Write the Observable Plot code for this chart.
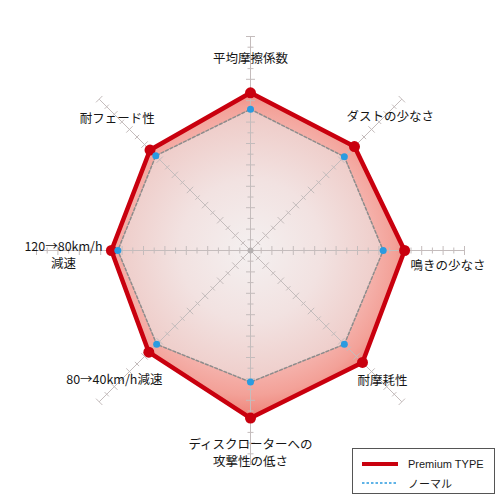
<!DOCTYPE html>
<html><head><meta charset="utf-8">
<script src="https://cdn.jsdelivr.net/npm/d3@7"></script>
<script src="https://cdn.jsdelivr.net/npm/@observablehq/plot@0.6"></script>
<style>
body{margin:0;background:#fff;font-family:"Noto Sans CJK JP","Noto Sans",sans-serif;}
#wrap{position:relative;width:500px;height:500px;}
#legend{position:absolute;left:352px;top:448px;width:143px;height:46px;border:1px solid #555;background:#fff;font-size:11px;color:#1a1a1a;box-sizing:border-box;font-family:"Liberation Sans","Noto Sans CJK JP",sans-serif;}
#legend .row{position:absolute;left:9px;display:flex;align-items:center;height:14px;}
#legend svg{margin-right:10px;}
</style></head><body><div id="wrap"></div>
<script>
// ---- data ----
const categories = ["平均摩擦係数","ダストの少なさ","鳴きの少なさ","耐摩耗性","ディスクローターへの\n攻撃性の低さ","80→40km/h減速","120→80km/h\n減速","耐フェード性"];
const premium = [7.37, 6.87, 7.2, 7.4, 7.83, 6.72, 6.5, 6.64];
const normal  = [6.6, 6.2, 6.2, 6.2, 6.15, 6.2, 6.2, 6.26];
const seriesNames = ["Premium TYPE", "ノーマル"];
const axisMax = 10;
const tickStep = 0.5;

// ---- layout (not data) ----
const W = 500, H = 500, pxPerUnit = 21.4;
const half = W / 2 / pxPerUnit;
const labelLayout = [
  {r: 9.02, anchor: "middle", dx: 0, dy: 0},
  {r: 9.1, anchor: "middle", dx: 2, dy: 3},
  {r: 7.48, anchor: "start", dx: 0, dy: 14},
  {r: 7.0, anchor: "start", dx: 1, dy: 23},
  {r: 9.44, anchor: "middle", dx: 0, dy: 0},
  {r: 9.0, anchor: "middle", dx: 0, dy: -8},
  {r: 8.74, anchor: "middle", dx: 0, dy: 4},
  {r: 9.0, anchor: "middle", dx: 3, dy: 3}
];

const n = categories.length;
const ang = i => i * 2 * Math.PI / n;
const px = (i, r) => r * Math.sin(ang(i));
const py = (i, r) => r * Math.cos(ang(i));

const premPts = premium.map((v, i) => ({x: px(i, v), y: py(i, v)}));
const normPts = normal.map((v, i) => ({x: px(i, v), y: py(i, v)}));
const axes = categories.map((c, i) => ({x1: 0, y1: 0, x2: px(i, axisMax), y2: py(i, axisMax)}));
const ticks = [];
categories.forEach((c, i) => {
  const ux = Math.cos(ang(i)), uy = -Math.sin(ang(i));
  for (let t = tickStep; t <= axisMax + 1e-9; t += tickStep) {
    const major = Math.abs(t - Math.round(t)) < 1e-6;
    const hl = (major ? 4.5 : 3) / pxPerUnit;
    const cx = px(i, t), cy = py(i, t);
    ticks.push({x1: cx - ux * hl, y1: cy - uy * hl, x2: cx + ux * hl, y2: cy + uy * hl});
  }
});
const labels = categories.map((c, i) => ({
  text: c, x: px(i, labelLayout[i].r), y: py(i, labelLayout[i].r), ...labelLayout[i]
}));

const axisColor = "#c4bcbc";
const chart = Plot.plot({
  width: W, height: H, margin: 0,
  x: {domain: [-half, half], axis: null},
  y: {domain: [-half, half], axis: null},
  style: {background: "transparent", fontFamily: '"Noto Sans CJK JP", sans-serif'},
  marks: [
    Plot.line(premPts, {x: "x", y: "y", curve: "linear-closed", fill: "url(#premGrad)", stroke: "none"}),
    Plot.line(normPts, {x: "x", y: "y", curve: "linear-closed", fill: "url(#normGrad)", stroke: "none"}),
    Plot.link(axes, {x1: "x1", y1: "y1", x2: "x2", y2: "y2", stroke: axisColor, strokeWidth: 1}),
    Plot.link(ticks, {x1: "x1", y1: "y1", x2: "x2", y2: "y2", stroke: axisColor, strokeWidth: 1}),
    Plot.dot([{x: 0, y: 0}], {x: "x", y: "y", r: 3, fill: "#b5b0b0"}),
    Plot.line(normPts, {x: "x", y: "y", curve: "linear-closed", stroke: "#8c8c8c", strokeWidth: 1.5, strokeDasharray: "3,2"}),
    Plot.line(premPts, {x: "x", y: "y", curve: "linear-closed", stroke: "#c9000e", strokeWidth: 4.5, strokeLinejoin: "round"}),
    Plot.dot(premPts, {x: "x", y: "y", r: 5.5, fill: "#c9000e"}),
    Plot.dot(normPts, {x: "x", y: "y", r: 3.5, fill: "#2a9be0"}),
    ...labels.map(l => Plot.text([l], {x: "x", y: "y", text: "text", textAnchor: l.anchor, dx: l.dx, dy: l.dy,
      fontSize: 12.5, fill: "#161616", lineHeight: 1.35, lineAnchor: "middle"}))
  ]
});
d3.select(chart).insert("defs", ":first-child").html(`
  <radialGradient id="premGrad" gradientUnits="userSpaceOnUse" cx="250" cy="250" r="170">
    <stop offset="0" stop-color="#f6d2ce"/>
    <stop offset="0.7" stop-color="#f5b4ae"/>
    <stop offset="0.85" stop-color="#f3a198"/>
    <stop offset="1" stop-color="#ed7d72"/>
  </radialGradient>
  <radialGradient id="normGrad" gradientUnits="userSpaceOnUse" cx="250" cy="250" r="142">
    <stop offset="0" stop-color="#f4f0f0"/>
    <stop offset="0.5" stop-color="#f2e2e1"/>
    <stop offset="1" stop-color="#eec9c5"/>
  </radialGradient>`);
const wrap = document.getElementById("wrap");
wrap.appendChild(chart);

const legend = document.createElement("div");
legend.id = "legend";
legend.innerHTML = `
  <div class="row" style="top:8px"><svg width="36" height="6"><line x1="0" y1="3" x2="36" y2="3" stroke="#c9000e" stroke-width="4"/></svg><span>${seriesNames[0]}</span></div>
  <div class="row" style="top:27px"><svg width="36" height="6"><line x1="0" y1="3" x2="36" y2="3" stroke="#2a9be0" stroke-width="1.5" stroke-dasharray="2.5,2"/></svg><span>${seriesNames[1]}</span></div>`;
wrap.appendChild(legend);
</script></body></html>
